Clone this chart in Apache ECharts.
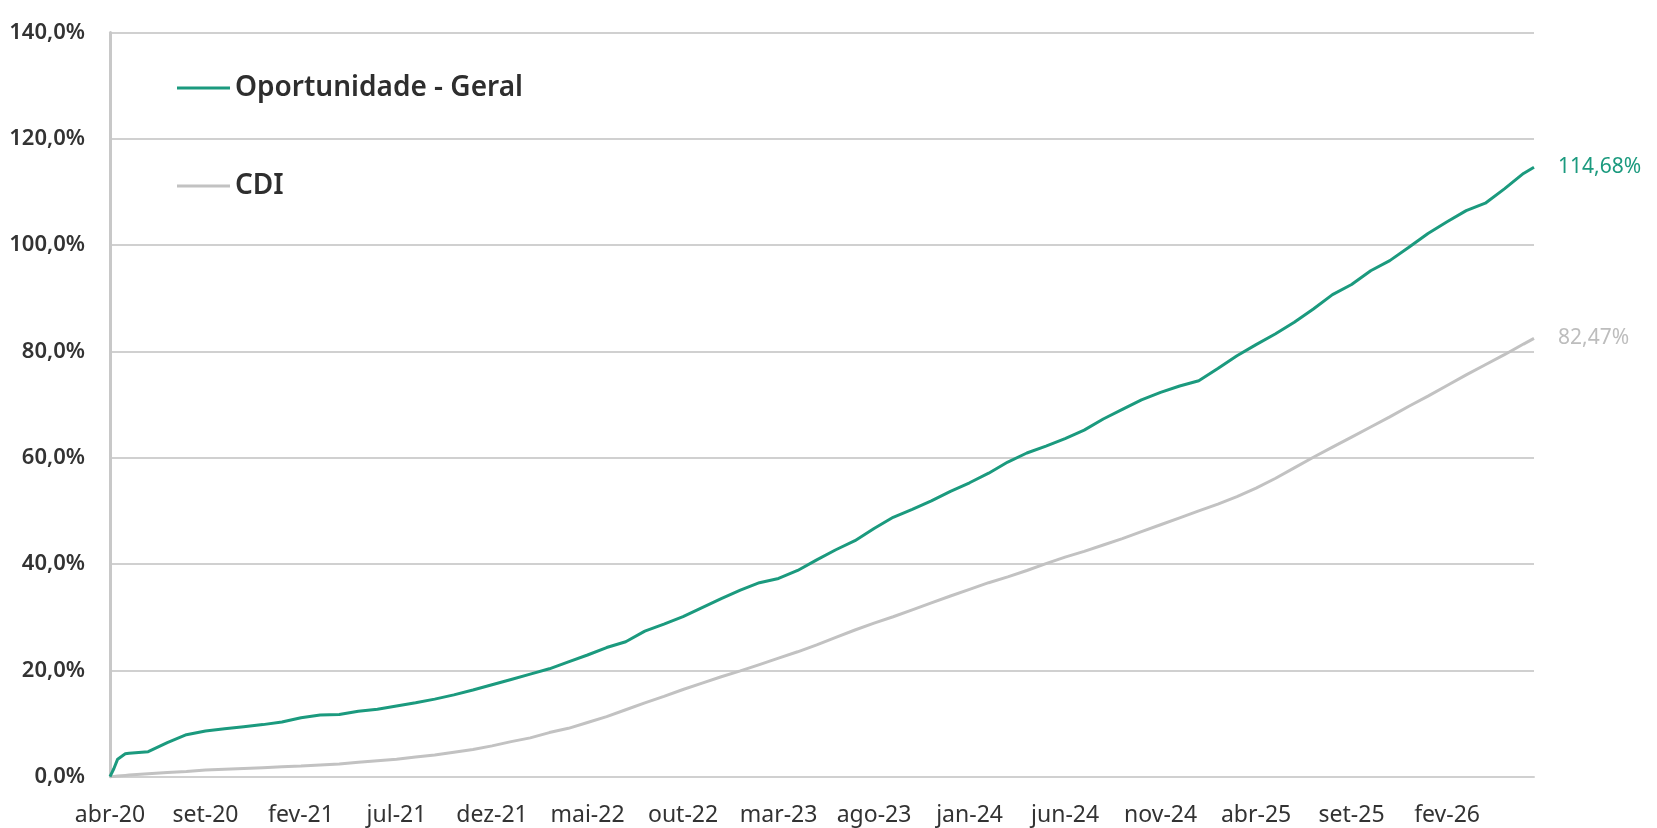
<!DOCTYPE html>
<html>
<head>
<meta charset="utf-8">
<script src="https://cdn.jsdelivr.net/npm/echarts@6/dist/echarts.min.js"></script>
<style>
html,body{margin:0;padding:0;background:#fff;}
#chart{width:1657px;height:828px;}
</style>
</head>
<body>
<div id="chart"></div>
<script>
// x positions: months elapsed since abr-20
const monthsElapsed = [0,0.2,0.4,0.8,1,2,3,4,5,6,7,8,9,10,11,12,13,14,15,16,17,18,19,20,21,22,23,24,25,26,27,28,29,30,31,32,33,34,35,36,37,38,39,40,41,42,43,44,45,46,47,48,49,50,51,52,53,54,55,56,57,58,59,60,61,62,63,64,65,66,67,68,69,70,71,72,73,74,74.55];
const tickLabels = ['abr-20','set-20','fev-21','jul-21','dez-21','mai-22','out-22','mar-23','ago-23','jan-24','jun-24','nov-24','abr-25','set-25','fev-26'];
const geral = [0,1.5,3.3,4.3,4.4,4.7,6.4,7.9,8.6,9.0,9.4,9.8,10.3,11.1,11.6,11.7,12.3,12.7,13.3,13.9,14.6,15.4,16.3,17.3,18.3,19.3,20.3,21.6,22.9,24.3,25.4,27.4,28.7,30.1,31.8,33.5,35.1,36.5,37.3,38.8,40.8,42.7,44.4,46.7,48.8,50.3,51.9,53.7,55.3,57.1,59.2,60.9,62.2,63.6,65.2,67.3,69.1,70.9,72.3,73.5,74.5,76.8,79.2,81.3,83.3,85.5,88.0,90.7,92.6,95.2,97.1,99.6,102.2,104.4,106.5,107.9,110.6,113.5,114.68];
const cdi = [0,0.06,0.12,0.24,0.3,0.55,0.8,1.0,1.25,1.4,1.55,1.7,1.85,2.0,2.2,2.4,2.7,3.0,3.3,3.7,4.1,4.6,5.1,5.8,6.6,7.3,8.3,9.1,10.2,11.3,12.6,13.9,15.1,16.4,17.6,18.8,19.9,21.1,22.3,23.5,24.8,26.2,27.6,28.9,30.1,31.4,32.7,34.0,35.25,36.5,37.6,38.8,40.1,41.3,42.4,43.6,44.8,46.1,47.4,48.7,50.0,51.3,52.7,54.3,56.1,58.1,60.1,62.0,63.9,65.8,67.7,69.7,71.6,73.6,75.6,77.5,79.4,81.4,82.47];

const GREEN = '#1b9a7e';
const GRAY = '#c2c2c2';
const FONT = 'Noto Sans';
const pct2 = v => v.toFixed(2).replace('.', ',') + '%';

const chart = echarts.init(document.getElementById('chart'), null, {renderer: 'canvas'});
chart.setOption({
  animation: false,
  backgroundColor: '#fff',
  textStyle: {fontFamily: FONT},
  grid: {left: 110, right: 123, top: 32.6, bottom: 51.3, containLabel: false},
  legend: {
    orient: 'vertical',
    left: 177,
    top: 72,
    padding: 0,
    icon: 'rect',
    itemWidth: 53,
    itemHeight: 3,
    itemGap: 66,
    textStyle: {fontFamily: FONT, fontSize: 28, fontWeight: 600, color: '#2e2e2e', lineHeight: 32},
    data: ['Oportunidade - Geral', 'CDI']
  },
  xAxis: {
    type: 'value',
    min: 0,
    max: monthsElapsed[monthsElapsed.length - 1],
    interval: 5,
    splitLine: {show: false},
    axisTick: {show: false},
    axisLine: {show: true, lineStyle: {color: '#d0d0d0', width: 2}},
    axisLabel: {
      showMaxLabel: false,
      margin: 27,
      fontFamily: FONT,
      fontSize: 23,
      color: '#333',
      formatter: function (v) {
        const i = Math.round(v / 5);
        if (Math.abs(v - i * 5) > 1e-6) return '';
        return tickLabels[i] || '';
      }
    }
  },
  yAxis: {
    type: 'value',
    min: 0,
    max: 140,
    interval: 20,
    axisLine: {show: true, lineStyle: {color: '#c8c8c8', width: 3}},
    axisTick: {show: false},
    splitLine: {show: true, lineStyle: {color: '#d0d0d0', width: 2}},
    axisLabel: {
      margin: 25,
      fontFamily: FONT,
      fontSize: 22,
      fontWeight: 600,
      color: '#333',
      formatter: v => v.toFixed(1).replace('.', ',') + '%'
    }
  },
  series: [
    {
      name: 'Oportunidade - Geral',
      type: 'line',
      data: monthsElapsed.map((t, i) => [t, geral[i]]),
      showSymbol: false,
      symbol: 'none',
      lineStyle: {color: GREEN, width: 3},
      itemStyle: {color: GREEN},
      z: 3,
      endLabel: {show: true, distance: 24, formatter: p => pct2(p.value[1]), color: GREEN, fontFamily: FONT, fontSize: 21}
    },
    {
      name: 'CDI',
      type: 'line',
      data: monthsElapsed.map((t, i) => [t, cdi[i]]),
      showSymbol: false,
      symbol: 'none',
      lineStyle: {color: GRAY, width: 3},
      itemStyle: {color: GRAY},
      z: 2,
      endLabel: {show: true, distance: 24, formatter: p => pct2(p.value[1]), color: '#bdbdbd', fontFamily: FONT, fontSize: 21}
    }
  ]
});
</script>
</body>
</html>
